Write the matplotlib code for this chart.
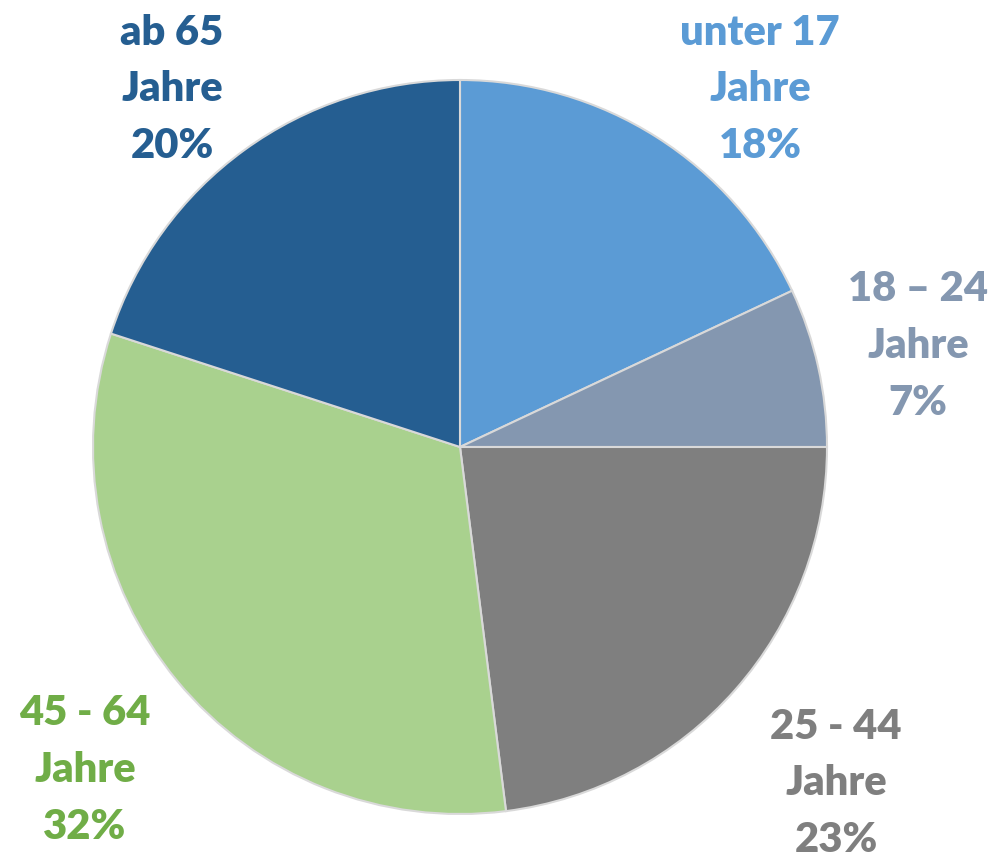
import matplotlib.pyplot as plt
import numpy as np

# Altersgruppen (im Uhrzeigersinn ab 12 Uhr)
groups = ["unter 17\nJahre", "18 – 24\nJahre", "25 - 44\nJahre", "45 - 64\nJahre", "ab 65\nJahre"]
shares = [18, 7, 23, 32, 20]
slice_colors = ["#5B9BD5", "#8497B0", "#7F7F7F", "#A9D18E", "#255E91"]
label_colors = ["#5B9BD5", "#8497B0", "#7F7F7F", "#70AD47", "#255E91"]

# Label-Mittelpunkte in Achsen-Einheiten (Radius = 1)
label_pos = [(0.818, 0.975), (1.248, 0.275), (1.025, -0.916), (-1.022, -0.880), (-0.785, 0.975)]

fig = plt.figure(figsize=(9.94, 8.57), dpi=100)
ax = fig.add_axes([93 / 994, 43 / 857, 734 / 994, 734 / 857])

ax.pie(shares, colors=slice_colors, startangle=90, counterclock=False, radius=1,
       wedgeprops=dict(edgecolor="#D9D9D9", linewidth=1.5))
ax.set_xlim(-1, 1)
ax.set_ylim(-1, 1)
ax.set_aspect("auto")
ax.axis("off")

for g, s, c, (x, y) in zip(groups, shares, label_colors, label_pos):
    ax.text(x, y, "{}\n{}%".format(g, s), color=c, fontsize=30, fontweight="heavy",
            family=["Lato", "DejaVu Sans"], ha="center", va="center",
            linespacing=1.6, clip_on=False)

fig.savefig("out.png", dpi=100)
